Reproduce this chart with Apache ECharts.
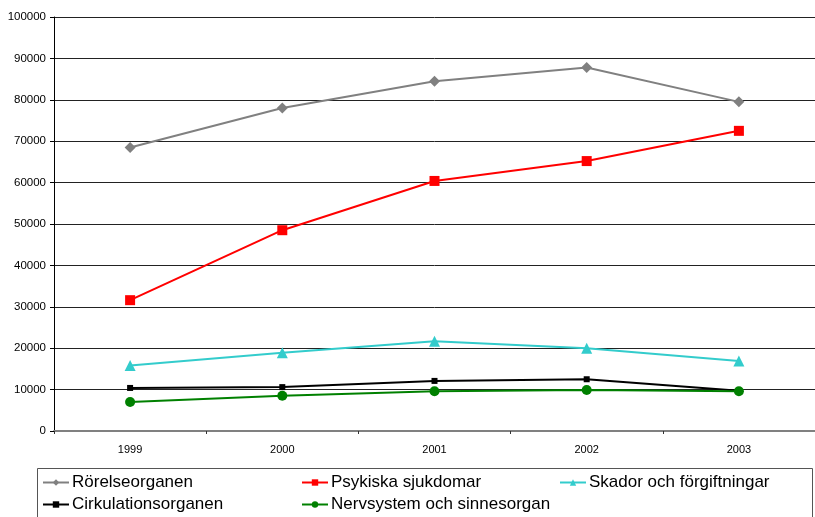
<!DOCTYPE html>
<html>
<head>
<meta charset="utf-8">
<script src="https://cdn.jsdelivr.net/npm/echarts@6/dist/echarts.min.js"></script>
<style>
  html, body { margin: 0; padding: 0; background: #fff; }
  #chart { width: 815px; height: 517px; }
</style>
</head>
<body>
<div id="chart"></div>
<script>
const years = ['1999', '2000', '2001', '2002', '2003'];
const rorelseorganen = [68500, 78000, 84500, 87800, 79500];
const psykiska = [31600, 48500, 60400, 65200, 72500];
const skador = [15800, 18900, 21700, 20000, 16900];
const cirkulation = [10400, 10600, 12100, 12500, 9700];
const nervsystem = [7000, 8500, 9600, 9900, 9600];
const yTicks = { min: 0, max: 100000, step: 10000 };

const FONT = '"Liberation Sans", Arial, sans-serif';

const seriesDefs = [
  { name: 'Rörelseorganen', data: rorelseorganen, color: '#808080', symbol: 'diamond', size: 11 },
  { name: 'Psykiska sjukdomar', data: psykiska, color: '#ff0000', symbol: 'rect', size: 10 },
  { name: 'Skador och förgiftningar', data: skador, color: '#33cccc', symbol: 'triangle', size: 11 },
  { name: 'Cirkulationsorganen', data: cirkulation, color: '#000000', symbol: 'rect', size: 6 },
  { name: 'Nervsystem och sinnesorgan', data: nervsystem, color: '#008000', symbol: 'circle', size: 10 }
];

const legendPos = [
  { left: 42, top: 474 },
  { left: 301, top: 474 },
  { left: 559, top: 474 },
  { left: 42, top: 496 },
  { left: 301, top: 496 }
];

const chart = echarts.init(document.getElementById('chart'), null, { renderer: 'canvas' });

chart.setOption({
  animation: false,
  backgroundColor: '#ffffff',
  grid: { left: 54, top: 17, width: 767, height: 414, containLabel: false },
  xAxis: {
    type: 'category',
    data: years,
    boundaryGap: true,
    axisLine: { lineStyle: { color: '#808080', width: 2 } },
    axisTick: { show: true, alignWithLabel: false, length: 3, lineStyle: { color: '#333' } },
    axisLabel: { color: '#000', fontFamily: FONT, fontSize: 11, margin: 13 }
  },
  yAxis: {
    type: 'value',
    min: yTicks.min,
    max: yTicks.max,
    interval: yTicks.step,
    axisLine: { show: true, lineStyle: { color: '#000', width: 1 } },
    axisTick: { show: true, length: 4, lineStyle: { color: '#000' } },
    axisLabel: { color: '#000', fontFamily: FONT, fontSize: 11.5, margin: 8, formatter: v => String(v) },
    splitLine: { show: true, lineStyle: { color: '#222', width: 1 } }
  },
  legend: seriesDefs.map((s, i) => ({
    data: [s.name],
    left: legendPos[i].left,
    top: legendPos[i].top,
    itemWidth: 26,
    itemHeight: 8,
    itemGap: 0,
    padding: 0,
    textStyle: { color: '#000', fontFamily: FONT, fontSize: 17, padding: [0, 0, 0, -2] }
  })),
  graphic: [{
    type: 'rect',
    shape: { x: 37.5, y: 468.5, width: 775, height: 60 },
    style: { fill: 'none', stroke: '#555', lineWidth: 1 },
    silent: true
  }],
  series: seriesDefs.map(s => ({
    name: s.name,
    type: 'line',
    data: s.data,
    symbol: s.symbol,
    symbolSize: s.size,
    showAllSymbol: true,
    lineStyle: { color: s.color, width: 2 },
    itemStyle: { color: s.color, borderWidth: 0 },
    emphasis: { disabled: true }
  }))
});
</script>
</body>
</html>
